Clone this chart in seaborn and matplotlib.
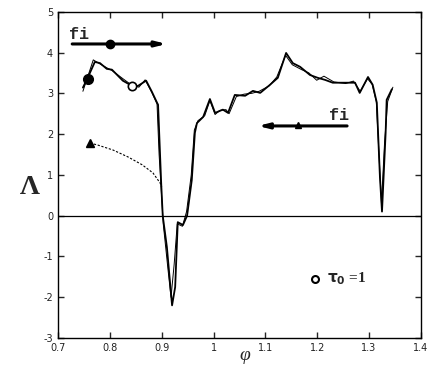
import numpy as np
import pandas as pd
import matplotlib
matplotlib.use("Agg")
import matplotlib.pyplot as plt
import seaborn as sns

# forward sweep (thick line)
phi_fwd = [0.748, 0.758, 0.771, 0.781, 0.794, 0.804, 0.825, 0.843, 0.854, 0.870,
           0.881, 0.891, 0.893, 0.899, 0.902, 0.910, 0.920, 0.926, 0.931, 0.941,
           0.949, 0.958, 0.964, 0.968, 0.980, 0.993, 1.003, 1.018, 1.028, 1.041,
           1.061, 1.076, 1.090, 1.109, 1.124, 1.140, 1.153, 1.167, 1.186, 1.201,
           1.215, 1.230, 1.257, 1.273, 1.282, 1.298, 1.307, 1.315, 1.321, 1.325,
           1.332, 1.334, 1.344]
lam_fwd = [3.14, 3.40, 3.77, 3.74, 3.60, 3.58, 3.31, 3.18, 3.18, 3.31,
           3.04, 2.77, 2.72, 0.80, 0.00, -0.77, -2.20, -1.75, -0.16, -0.23,
           0.00, 0.87, 2.03, 2.27, 2.42, 2.86, 2.52, 2.60, 2.52, 2.96,
           2.94, 3.06, 3.01, 3.21, 3.38, 3.99, 3.74, 3.65, 3.45, 3.38,
           3.33, 3.26, 3.26, 3.26, 3.01, 3.40, 3.21, 2.77, 0.95, 0.10,
           2.03, 2.84, 3.10]

# second run (thin line)
phi_alt = [0.748, 0.768, 0.781, 0.795, 0.804, 0.825, 0.840, 0.856, 0.868, 0.881,
           0.891, 0.895, 0.903, 0.912, 0.918, 0.924, 0.930, 0.940, 0.948, 0.957,
           0.963, 0.970, 0.983, 0.993, 1.003, 1.012, 1.024, 1.030, 1.044, 1.059,
           1.074, 1.088, 1.107, 1.122, 1.139, 1.152, 1.170, 1.184, 1.199, 1.213,
           1.232, 1.255, 1.270, 1.283, 1.297, 1.306, 1.314, 1.320, 1.324, 1.330,
           1.336, 1.346]
lam_alt = [3.05, 3.82, 3.72, 3.62, 3.56, 3.36, 3.22, 3.15, 3.33, 3.02,
           2.74, 1.50, -0.20, -1.30, -2.00, -1.20, -0.20, -0.26, 0.10, 1.00,
           2.10, 2.33, 2.45, 2.82, 2.48, 2.58, 2.60, 2.50, 2.92, 2.98,
           3.00, 3.05, 3.18, 3.40, 3.93, 3.70, 3.58, 3.50, 3.32, 3.42,
           3.28, 3.24, 3.30, 3.05, 3.36, 3.22, 2.80, 1.30, 0.30, 1.80,
           2.80, 3.15]

# backward branch (dotted line from the triangle)
phi_back = [0.762, 0.777, 0.806, 0.835, 0.862, 0.883, 0.897, 0.900]
lam_back = [1.78, 1.73, 1.61, 1.44, 1.25, 1.05, 0.80, 0.70]

# marker points
fwd_marker = (0.758, 3.36)
open_marker = (0.843, 3.18)
back_marker = (0.762, 1.78)

x_ticks = [0.7, 0.8, 0.9, 1.0, 1.1, 1.2, 1.3, 1.4]
x_labels = ["0.7", "0.8", "0.9", "1", "1.1", "1.2", "1.3", "1.4"]
y_ticks = [-3, -2, -1, 0, 1, 2, 3, 4, 5]

sns.set_style("ticks")
plt.rcParams["axes.unicode_minus"] = False

fig = plt.figure(figsize=(4.33, 3.72), dpi=100)
ax = fig.add_axes([0.134, 0.0914, 0.838, 0.877])

df_fwd = pd.DataFrame({"phi": phi_fwd, "lam": lam_fwd})
df_alt = pd.DataFrame({"phi": phi_alt, "lam": lam_alt})
df_back = pd.DataFrame({"phi": phi_back, "lam": lam_back})

ax.axhline(0, color="black", lw=0.9, zorder=1)
sns.lineplot(data=df_alt, x="phi", y="lam", sort=False, color="black", lw=0.7, ax=ax)
sns.lineplot(data=df_fwd, x="phi", y="lam", sort=False, color="black", lw=1.3, ax=ax)
sns.lineplot(data=df_back, x="phi", y="lam", sort=False, color="black", lw=0.8,
             linestyle=(0, (2, 1.5)), ax=ax)

ax.plot(*fwd_marker, "o", color="black", ms=7)
ax.plot(*open_marker, "o", mfc="white", mec="black", mew=1.2, ms=6)
ax.plot(*back_marker, "^", color="black", ms=6)

# direction arrows
ax.annotate("", xy=(0.915, 4.21), xytext=(0.722, 4.21),
            arrowprops=dict(arrowstyle="-|>,head_length=0.6,head_width=0.15",
                            lw=2.2, color="black"))
ax.plot(0.80, 4.21, "o", color="black", ms=6)
ax.text(0.722, 4.44, "fi", fontsize=12, fontweight="bold",
        family="Liberation Mono", ha="left", va="center")

ax.annotate("", xy=(1.080, 2.20), xytext=(1.263, 2.20),
            arrowprops=dict(arrowstyle="-|>,head_length=0.6,head_width=0.15",
                            lw=2.2, color="black"))
ax.plot(1.163, 2.22, "^", color="black", ms=5)
ax.text(1.222, 2.46, "fi", fontsize=12, fontweight="bold",
        family="Liberation Mono", ha="left", va="center")

# tau label
ax.plot(1.196, -1.55, "o", mfc="white", mec="black", mew=1.5, ms=5)
ax.text(1.218, -1.55, r"$\mathbf{\tau_0}$ =1", fontsize=11, fontweight="bold",
        family="Liberation Serif", ha="left", va="center")

ax.set_xlim(0.7, 1.4)
ax.set_ylim(-3, 5)
ax.set_xticks(x_ticks)
ax.set_xticklabels(x_labels)
ax.set_yticks(y_ticks)
ax.tick_params(direction="in", length=4, width=1, labelsize=7,
               top=True, right=True, labelcolor="#222222")
for s in ax.spines.values():
    s.set_linewidth(1)
    s.set_color("black")

ax.set_xlabel("")
ax.set_ylabel("")
fig.text(0.069, 0.495, "Λ", fontsize=20, fontweight="bold",
         family="Liberation Serif", ha="center", va="center")
fig.text(0.566, 0.045, "φ", fontsize=14, style="italic",
         family="Liberation Serif", ha="center", va="center")

fig.savefig("out.png", dpi=100)
